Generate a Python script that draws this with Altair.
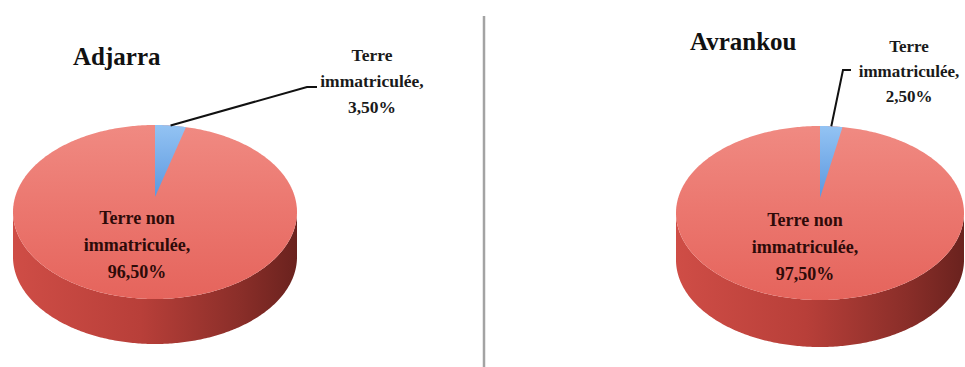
import numpy as np
import pandas as pd
import altair as alt

# ---------------- data ----------------
communes = ["Adjarra", "Avrankou"]
cat_immat = "Terre immatriculée"
cat_non = "Terre non immatriculée"
pct_immat = [3.5, 2.5]
pct_non = [96.5, 97.5]

# ---------------- layout (pixels) ----------------
W, H = 965, 367
LAYOUT = [
    dict(cx=155, cy=212, rx=142, ry=87, depth=45, apex_dy=15,
         title_x=73, title_y=65, lab_x=372, lab_y=56, lab_lh=26,
         elbow=(307, 87), tail=317, inner=(137, 219), inner_lh=27),
    dict(cx=820, cy=213, rx=144, ry=87, depth=47, apex_dy=15,
         title_x=690, title_y=50, lab_x=909, lab_y=47, lab_lh=25,
         elbow=(843, 70), tail=851, inner=(805, 221), inner_lh=27),
]

def fr_pct(v):
    return f"{v:.2f}".replace(".", ",") + "%"

top_rows, side_rows, wedge_rows, lead_rows = [], [], [], []
title_rows, lab_rows, inner_rows = [], [], []
N = 241
for i, name in enumerate(communes):
    L = LAYOUT[i]
    cx, cy, rx, ry, d = L["cx"], L["cy"], L["rx"], L["ry"], L["depth"]
    t = np.linspace(0, np.pi, N)
    xs = cx + rx * np.cos(t)
    h = ry * np.sin(t)
    for x, hh in zip(xs, h):
        top_rows.append(dict(pie=name, x=x, y=cy - hh, y2=cy + hh))
        side_rows.append(dict(pie=name, x=x, y=cy + hh, y2=cy + hh + d))
    # wedge of "Terre immatriculée", clockwise from 12 o'clock
    th = pct_immat[i] / 100 * 2 * np.pi
    px, py = cx + rx * np.sin(th), cy - ry * np.cos(th)
    ay = cy - L["apex_dy"]
    wx = np.linspace(cx, px, 60)
    for x in wx:
        u = (x - cx) / rx
        ytop = cy - ry * np.sqrt(max(0.0, 1 - u * u))
        ybot = ay + (py - ay) * (x - cx) / (px - cx)
        wedge_rows.append(dict(pie=name, x=x, y=ytop, y2=ybot))
    # leader line
    mid = th / 2
    sx, sy = cx + rx * np.sin(mid), cy - ry * np.cos(mid)
    ex, ey = L["elbow"]
    lead_rows += [dict(pie=name, o=0, x=sx, y=sy),
                  dict(pie=name, o=1, x=ex, y=ey),
                  dict(pie=name, o=2, x=L["tail"], y=ey)]
    title_rows.append(dict(pie=name, x=L["title_x"], y=L["title_y"], t=name))
    lab_rows.append(dict(pie=name, x=L["lab_x"], y=L["lab_y"], lh=L["lab_lh"],
                         t="Terre\nimmatriculée,\n" + fr_pct(pct_immat[i])))
    inner_rows.append(dict(pie=name, x=L["inner"][0], y=L["inner"][1],
                           t="Terre non\nimmatriculée,\n" + fr_pct(pct_non[i])))

top_df = pd.DataFrame(top_rows)
side_df = pd.DataFrame(side_rows)
wedge_df = pd.DataFrame(wedge_rows)
lead_df = pd.DataFrame(lead_rows)
title_df = pd.DataFrame(title_rows)
lab_df = pd.DataFrame(lab_rows)
inner_df = pd.DataFrame(inner_rows)

xs_ = alt.Scale(domain=[0, W], nice=False, zero=False)
ys_ = alt.Scale(domain=[0, H], nice=False, zero=False, reverse=True)
X = alt.X("x:Q", scale=xs_, axis=None)
Y = alt.Y("y:Q", scale=ys_, axis=None)
Y2 = alt.Y2("y2:Q")

side = alt.Chart(side_df).mark_area(
    fill=alt.Gradient(gradient="linear", x1=0, x2=1, y1=0, y2=0, stops=[
        alt.GradientStop(color="#CF4D46", offset=0),
        alt.GradientStop(color="#B83F39", offset=0.45),
        alt.GradientStop(color="#8A2E29", offset=0.8),
        alt.GradientStop(color="#6A221E", offset=1)]),
    stroke=None
).encode(x=X, y=Y, y2=Y2, detail="pie:N")

top = alt.Chart(top_df).mark_area(
    fill=alt.Gradient(gradient="linear", x1=0, x2=0, y1=0, y2=1, stops=[
        alt.GradientStop(color="#F08A82", offset=0),
        alt.GradientStop(color="#EB766E", offset=0.5),
        alt.GradientStop(color="#E5645C", offset=1)]),
    stroke=None
).encode(x=X, y=Y, y2=Y2, detail="pie:N")

wedge = alt.Chart(wedge_df).mark_area(
    fill=alt.Gradient(gradient="linear", x1=0, x2=0, y1=0, y2=1, stops=[
        alt.GradientStop(color="#93C3F3", offset=0),
        alt.GradientStop(color="#5C98DF", offset=1)]),
    stroke=None
).encode(x=X, y=Y, y2=Y2, detail="pie:N")

lead = alt.Chart(lead_df).mark_line(color="#111111", strokeWidth=2).encode(
    x=X, y=Y, order="o:Q", detail="pie:N")

titles = alt.Chart(title_df).mark_text(
    font="Liberation Serif", fontWeight="bold", fontSize=25, color="#111111",
    align="left", baseline="alphabetic"
).encode(x=X, y=Y, text="t:N")

labs_l = alt.Chart(lab_df.iloc[[0]]).mark_text(
    font="Liberation Serif", fontWeight="bold", fontSize=17.5, color="#1a1a1a",
    align="center", baseline="middle", lineBreak="\n", lineHeight=26
).encode(x=X, y=Y, text="t:N")

labs_r = alt.Chart(lab_df.iloc[[1]]).mark_text(
    font="Liberation Serif", fontWeight="bold", fontSize=17, color="#1a1a1a",
    align="center", baseline="middle", lineBreak="\n", lineHeight=25
).encode(x=X, y=Y, text="t:N")

inner = alt.Chart(inner_df).mark_text(
    font="Liberation Serif", fontWeight="bold", fontSize=18, color="#2E0B09",
    align="center", baseline="middle", lineBreak="\n", lineHeight=27
).encode(x=X, y=Y, text="t:N")

sep = alt.Chart(pd.DataFrame({"k": [0]})).mark_rule(
    color="#A3A3A3", strokeWidth=2.5
).encode(x=alt.value(484), y=alt.value(16), y2=alt.value(H))

chart = alt.layer(sep, side, top, wedge, lead, titles, labs_l, labs_r, inner).properties(
    width=W, height=H, padding=0, autosize=alt.AutoSizeParams(type="none")
).configure_view(stroke=None)

chart.save("out.html", embed_options={"renderer": "svg", "actions": False})
